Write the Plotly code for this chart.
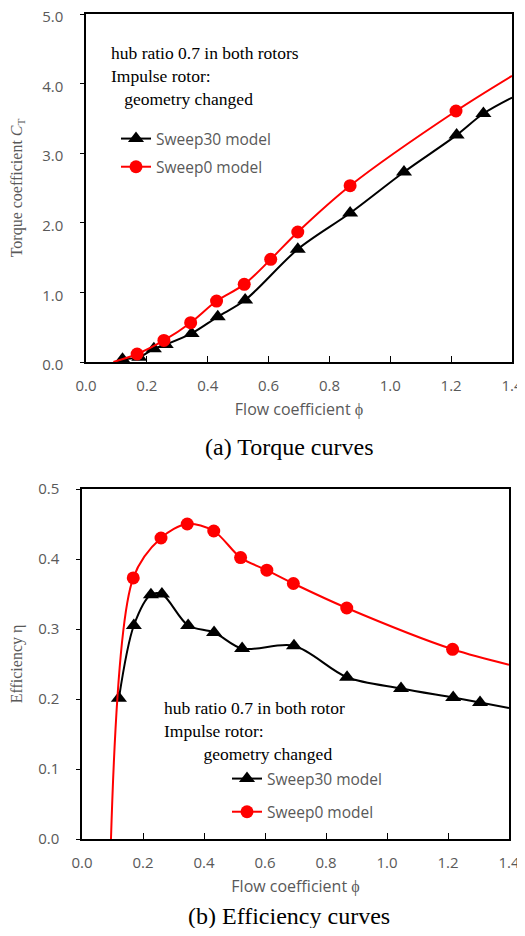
import plotly.graph_objects as go

# ---------------- data ----------------
# (a) Torque curves
phi_s30 = [0.12, 0.175, 0.223, 0.262, 0.347, 0.433, 0.523, 0.696, 0.868, 1.045, 1.218, 1.306]
ct_s30 = [0.04, 0.07, 0.19, 0.25, 0.41, 0.65, 0.89, 1.62, 2.14, 2.73, 3.26, 3.57]
phi_s0 = [0.168, 0.256, 0.344, 0.429, 0.520, 0.607, 0.696, 0.868, 1.216]
ct_s0 = [0.115, 0.31, 0.565, 0.876, 1.116, 1.475, 1.868, 2.533, 3.606]
# fitted-curve end points (line only, no markers)
ct_s30_line_end = (1.40, 3.80)
ct_s0_line_start = (0.09, 0.0)
ct_s0_line_end = (1.40, 4.11)

# (b) Efficiency curves
phi_e30 = [0.121, 0.17, 0.226, 0.262, 0.348, 0.433, 0.525, 0.695, 0.869, 1.046, 1.217, 1.305]
eta_s30 = [0.201, 0.305, 0.349, 0.350, 0.305, 0.295, 0.272, 0.276, 0.231, 0.215, 0.202, 0.195]
phi_e0 = [0.168, 0.259, 0.345, 0.432, 0.520, 0.606, 0.693, 0.868, 1.215]
eta_s0 = [0.373, 0.430, 0.450, 0.440, 0.402, 0.384, 0.365, 0.330, 0.271]
eta_s30_line_end = (1.40, 0.187)
eta_s0_line_start = (0.095, 0.0)
eta_s0_line_end = (1.40, 0.249)

x_ticks = [0.0, 0.2, 0.4, 0.6, 0.8, 1.0, 1.2, 1.4]
ct_ticks = [0.0, 1.0, 2.0, 3.0, 4.0, 5.0]
eta_ticks = [0.0, 0.1, 0.2, 0.3, 0.4, 0.5]

labels = ["Sweep30 model", "Sweep0 model"]
note_a = "hub ratio 0.7 in both rotors<br>Impulse rotor:<br>   geometry changed"
note_b = "hub ratio 0.7 in both rotor<br>Impulse rotor:<br>         geometry changed"

# ---------------- style ----------------
BLACK = "#000000"
RED = "#FF0000"
GRAY = "#595959"
SANS = "Open Sans"
SERIF = "Liberation Serif"

fig = go.Figure()


def add_series(xs, ys, start, end, color, symbol, size, xa, ya, legend, name, group):
    lx = ([start[0]] if start else []) + list(xs) + ([end[0]] if end else [])
    ly = ([start[1]] if start else []) + list(ys) + ([end[1]] if end else [])
    fig.add_trace(go.Scatter(x=lx, y=ly, mode="lines", xaxis=xa, yaxis=ya,
                             line=dict(color=color, width=2, shape="spline", smoothing=0.9),
                             showlegend=False, hoverinfo="skip"))
    fig.add_trace(go.Scatter(x=xs, y=ys, mode="markers", xaxis=xa, yaxis=ya,
                             marker=dict(color=color, symbol=symbol, size=size),
                             cliponaxis=False, showlegend=False))
    fig.add_trace(go.Scatter(x=[None], y=[None], mode="lines+markers", xaxis=xa, yaxis=ya,
                             line=dict(color=color, width=2),
                             marker=dict(color=color, symbol=symbol, size=size),
                             name=name, legend=legend, legendgroup=group, showlegend=True))


add_series(phi_s30, ct_s30, None, ct_s30_line_end, BLACK, "triangle-up", 14, "x", "y", "legend", labels[0], "a30")
add_series(phi_s0, ct_s0, ct_s0_line_start, ct_s0_line_end, RED, "circle", 13, "x", "y", "legend", labels[1], "a0")
add_series(phi_e30, eta_s30, None, eta_s30_line_end, BLACK, "triangle-up", 14, "x2", "y2", "legend2", labels[0], "b30")
add_series(phi_e0, eta_s0, eta_s0_line_start, eta_s0_line_end, RED, "circle", 13, "x2", "y2", "legend2", labels[1], "b0")

# the page adds an 8px body margin, so the figure is drawn 8px in from the window edge
OFF = 8
W, H = 525 - OFF, 936 - 2 * OFF


def px_x(p):
    return (p - OFF) / W


def px_y(p):
    return 1 - (p - OFF) / H


axis_common = dict(showgrid=False, zeroline=False, showline=True, linecolor=BLACK, linewidth=1.5,
                   mirror=True, tickfont=dict(family=SANS, size=15, color=GRAY), tickformat=".1f",
                   tickcolor=BLACK, tickwidth=1, automargin=False, ticklabeloverflow="allow")
xt = dict(ticks="inside", ticklen=6, ticklabelstandoff=9)
yt = dict(ticks="outside", ticklen=4, ticklabelstandoff=14)

fig.update_layout(
    width=W, height=H, margin=dict(l=0, r=0, t=0, b=0, autoexpand=False),
    paper_bgcolor="white", plot_bgcolor="white",
    xaxis=dict(axis_common, **xt, domain=[px_x(86), px_x(512)], range=[0, 1.4], tickvals=x_ticks,
               anchor="y",
               title=dict(text="Flow coefficient ϕ", font=dict(family=SANS, size=16, color=GRAY), standoff=10)),
    yaxis=dict(axis_common, **yt, domain=[px_y(362), px_y(14)], range=[0, 5], tickvals=ct_ticks,
               anchor="x", ticklabelshift=3,
               title=dict(text="Torque coefficient <i>C</i><sub>T</sub>", font=dict(family=SERIF, size=16, color=GRAY), standoff=16)),
    xaxis2=dict(axis_common, **xt, domain=[px_x(82), px_x(509)], range=[0, 1.4], tickvals=x_ticks,
                anchor="y2",
                title=dict(text="Flow coefficient ϕ", font=dict(family=SANS, size=16, color=GRAY), standoff=10)),
    yaxis2=dict(axis_common, **yt, domain=[px_y(839), px_y(489)], range=[0, 0.5], tickvals=eta_ticks,
                anchor="x2",
                title=dict(text="Efficiency η", font=dict(family=SERIF, size=16, color=GRAY), standoff=16)),
    legend=dict(x=px_x(116), y=px_y(122), xanchor="left", yanchor="top", bgcolor="rgba(0,0,0,0)",
                font=dict(family=SANS, size=15.5, color=GRAY), traceorder="grouped", tracegroupgap=5),
    legend2=dict(x=px_x(227), y=px_y(762), xanchor="left", yanchor="top", bgcolor="rgba(0,0,0,0)",
                 font=dict(family=SANS, size=15.5, color=GRAY), traceorder="grouped", tracegroupgap=10),
    showlegend=True,
)

fig.add_annotation(text=note_a, xref="paper", yref="paper", x=px_x(109), y=px_y(41),
                   xanchor="left", yanchor="top", align="left", showarrow=False,
                   font=dict(family=SERIF, size=17.5, color=BLACK))
fig.add_annotation(text=note_b, xref="paper", yref="paper", x=px_x(162), y=px_y(696),
                   xanchor="left", yanchor="top", align="left", showarrow=False,
                   font=dict(family=SERIF, size=17.5, color=BLACK))
fig.add_annotation(text="(a) Torque curves", xref="paper", yref="paper", x=px_x(289), y=px_y(447),
                   xanchor="center", yanchor="middle", showarrow=False,
                   font=dict(family=SERIF, size=24, color=BLACK))
fig.add_annotation(text="(b) Efficiency curves", xref="paper", yref="paper", x=px_x(289), y=px_y(916),
                   xanchor="center", yanchor="middle", showarrow=False,
                   font=dict(family=SERIF, size=24, color=BLACK))

fig.write_html("out.html")
